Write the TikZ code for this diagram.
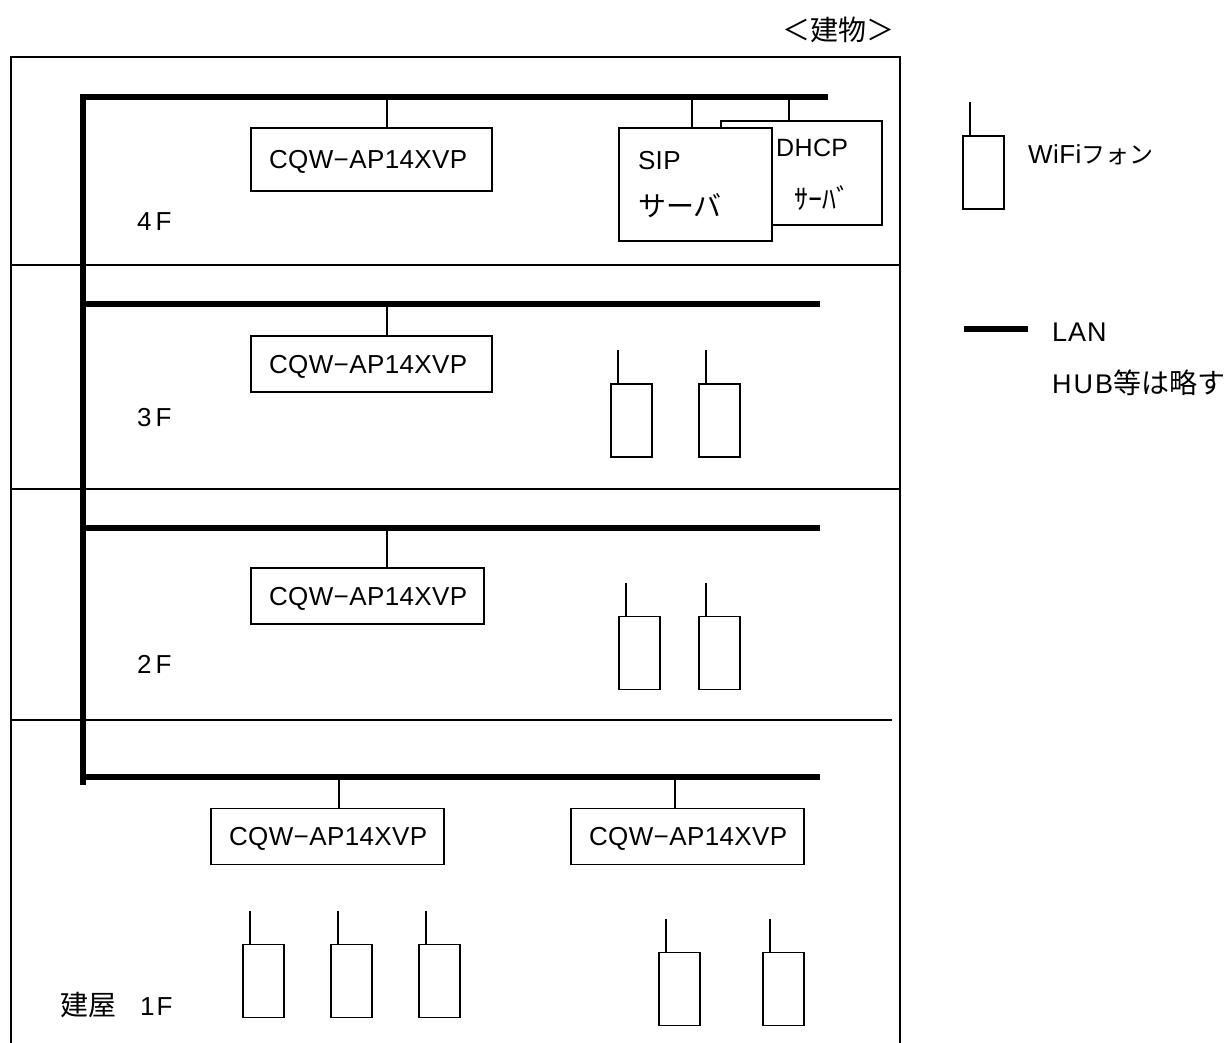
\documentclass[tikz,border=0pt]{standalone}
\usepackage{fontspec}
\setmainfont[LetterSpace=1.5]{Liberation Sans}
\newfontfamily\jpfont{Noto Sans CJK JP}
\usepackage{xcolor}
\usepackage{tikz}
\usetikzlibrary{positioning, calc}

\tikzset{
    apbox/.style={draw, line width=1.7pt, align=left, inner xsep=18pt, inner ysep=0pt, text width=#1, text height=18pt, text depth=0pt, minimum height=56pt, font=\fontsize{26}{30}\selectfont},
    srvbox/.style={draw, fill=white, line width=1.7pt, inner sep=0pt, align=left, font=\fontsize{26}{47}\selectfont},
    phone/.style={draw, line width=1.7pt, inner sep=0pt, minimum width=41pt, minimum height=73pt},
    lan/.style={line width=6pt},
    thin line/.style={line width=1.7pt},
    lbl/.style={anchor=west, inner sep=0pt, font=\fontsize{26}{30}\selectfont}
}

\begin{document}
\begin{tikzpicture}[x=1pt, y=-1pt]
    \useasboundingbox (0,0) rectangle (1227,1043);

    % Building outline
    \node[lbl, font=\fontsize{28}{30}\selectfont\jpfont] (title) at (782,30) {＜建物＞};
    \draw[thin line] (11,1043) -- (11,57) -- (900,57) -- (900,1043);

    % Floor lines
    \draw[thin line] (11,265) -- (900,265);
    \draw[thin line] (11,489) -- (900,489);
    \draw[thin line] (11,720) -- (892,720);

    % LAN backbone and floor lines
    \coordinate (B4) at (80,97);
    \coordinate (B3) at (83,304);
    \coordinate (B2) at (83,528);
    \coordinate (B1) at (83,777);
    \draw[lan] (83,94) -- (83,785);
    \draw[lan] (B4) -- (828,97);
    \draw[lan] (B3) -- (820,304);
    \draw[lan] (B2) -- (820,528);
    \draw[lan] (B1) -- (820,777);

    % 4F
    \node[lbl] (f4) at (137,222) {4\kern4pt F};
    \node[apbox=205pt, minimum height=63pt] (ap4) at (371.5,159.5) {CQW−AP14XVP};
    \node[srvbox, minimum width=161pt, minimum height=104pt] (dhcp) at (801.5,173) {};
    \node[srvbox, minimum width=153pt, minimum height=113pt, text width=115pt] (sip) at (695.5,184.5) {SIP\\{\fontsize{28}{47}\selectfont\jpfont サーバ}};
    \coordinate (S4) at (387,97);
    \coordinate (Ssip) at (692,97);
    \coordinate (Sdhcp) at (789,97);
    \draw[thin line] (S4) -- (S4 |- ap4.north);
    \draw[thin line] (Ssip) -- (Ssip |- sip.north);
    \draw[thin line] (Sdhcp) -- (Sdhcp |- dhcp.north);
    \node[lbl, font=\fontsize{25}{30}\selectfont] (dhcpa) at (776,148) {DHCP};
    \node[lbl, font=\fontsize{28}{30}\selectfont\jpfont] (dhcpb) at (794,198) {ｻｰﾊﾞ};

    % 3F
    \node[lbl] (f3) at (137,418) {3\kern4pt F};
    \node[apbox=205pt] (ap3) at (371.5,364) {CQW−AP14XVP};
    \coordinate (S3) at (387,304);
    \draw[thin line] (S3) -- (S3 |- ap3.north);
    \node[phone] (p31) at (631.5,420.5) {};
    \node[phone] (p32) at (719.5,420.5) {};
    \draw[thin line] ($(p31.north west)+(8,0)$) -- ++(0,-33);
    \draw[thin line] ($(p32.north west)+(8,0)$) -- ++(0,-33);

    % 2F
    \node[lbl] (f2) at (137,664) {2\kern4pt F};
    \node[apbox=197pt] (ap2) at (367.5,596) {CQW−AP14XVP};
    \coordinate (S2) at (387,528);
    \draw[thin line] (S2) -- (S2 |- ap2.north);
    \node[phone] (p21) at (639.5,653) {};
    \node[phone] (p22) at (719.5,653) {};
    \draw[thin line] ($(p21.north west)+(8,0)$) -- ++(0,-33);
    \draw[thin line] ($(p22.north west)+(8,0)$) -- ++(0,-33);

    % 1F
    \node[lbl] (f1) at (60,1005) {{\fontsize{28}{30}\selectfont\jpfont 建屋}\kern 24pt 1\kern2pt F};
    \node[apbox=197pt] (ap1a) at (327.5,836.5) {CQW−AP14XVP};
    \node[apbox=197pt] (ap1b) at (687.5,836.5) {CQW−AP14XVP};
    \coordinate (S1a) at (339,777);
    \coordinate (S1b) at (675,777);
    \draw[thin line] (S1a) -- (S1a |- ap1a.north);
    \draw[thin line] (S1b) -- (S1b |- ap1b.north);
    \node[phone] (p11) at (263.5,981) {};
    \node[phone] (p12) at (351.5,981) {};
    \node[phone] (p13) at (439.5,981) {};
    \node[phone] (p14) at (679.5,989) {};
    \node[phone] (p15) at (783.5,989) {};
    \draw[thin line] ($(p11.north west)+(8,0)$) -- ++(0,-33);
    \draw[thin line] ($(p12.north west)+(8,0)$) -- ++(0,-33);
    \draw[thin line] ($(p13.north west)+(8,0)$) -- ++(0,-33);
    \draw[thin line] ($(p14.north west)+(8,0)$) -- ++(0,-33);
    \draw[thin line] ($(p15.north west)+(8,0)$) -- ++(0,-33);

    % Legend
    \node[phone] (legphone) at (983.5,172.5) {};
    \draw[thin line] ($(legphone.north west)+(8,0)$) -- ++(0,-33);
    \node[lbl] (legwifi) at (1028,155) {WiFi{\fontsize{24}{30}\selectfont\jpfont フォン}};
    \coordinate (legA) at (964,329);
    \coordinate (legB) at (1028,329);
    \draw[lan] (legA) -- (legB);
    \node[lbl, font=\fontsize{27}{30}\selectfont] (leglan) at (1052,332) {L\kern1pt A\kern1pt N};
    \node[lbl, font=\fontsize{27}{30}\selectfont] (leghub) at (1052,383) {H\kern2pt U\kern2pt B{\fontsize{28}{30}\selectfont\jpfont 等は略す}};
\end{tikzpicture}
\end{document}
